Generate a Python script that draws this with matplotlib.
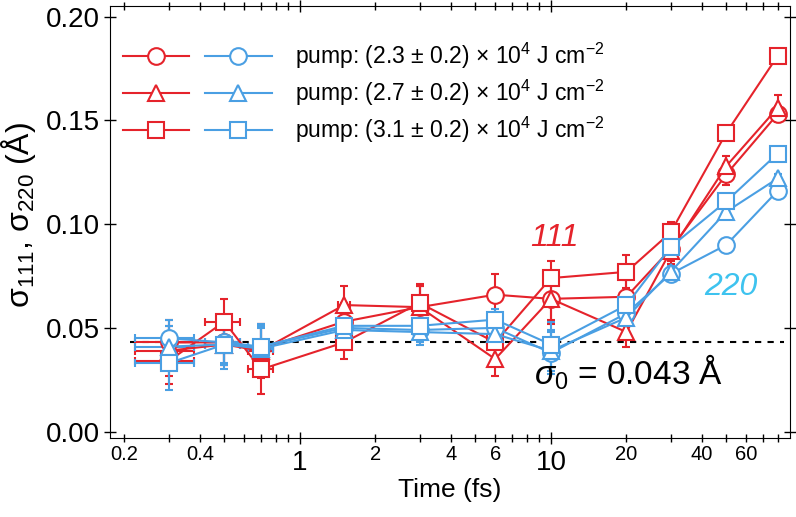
import matplotlib
matplotlib.use('Agg')
import matplotlib.pyplot as plt
from matplotlib.lines import Line2D
from matplotlib.legend_handler import HandlerTuple
from matplotlib.ticker import FixedLocator, FixedFormatter

plt.rcParams['font.family'] = ['Liberation Sans', 'DejaVu Sans']
plt.rcParams['mathtext.fontset'] = 'custom'
plt.rcParams['mathtext.rm'] = 'Liberation Sans'
plt.rcParams['mathtext.it'] = 'Liberation Sans:italic'

# data
time_fs = [0.3, 0.5, 0.7, 1.5, 3, 6, 10, 20, 30, 50, 80]
time_err = 0.08

s111_23 = [0.043, 0.043, 0.040, 0.053, 0.060, 0.066, 0.064, 0.065, 0.088, 0.124, 0.153]
s111_27 = [0.039, 0.042, 0.039, 0.061, 0.060, 0.035, 0.064, 0.048, 0.087, 0.128, 0.156]
s111_31 = [0.034, 0.053, 0.030, 0.043, 0.062, 0.043, 0.074, 0.077, 0.096, 0.144, 0.181]
e111_23 = [0.011, 0.011, 0.012, 0.009, 0.010, 0.010, 0.012, 0.008, 0.006, 0.005, 0.004]
e111_27 = [0.012, 0.010, 0.013, 0.009, 0.010, 0.008, 0.010, 0.007, 0.006, 0.005, 0.006]
e111_31 = [0.011, 0.011, 0.012, 0.008, 0.009, 0.009, 0.008, 0.008, 0.005, 0.002, 0.002]

s220_23 = [0.045, 0.043, 0.041, 0.050, 0.049, 0.050, 0.038, 0.057, 0.076, 0.090, 0.116]
s220_27 = [0.041, 0.042, 0.040, 0.049, 0.048, 0.047, 0.039, 0.055, 0.077, 0.106, 0.122]
s220_31 = [0.033, 0.042, 0.041, 0.051, 0.051, 0.054, 0.042, 0.061, 0.089, 0.111, 0.134]
e220_23 = [0.009, 0.010, 0.010, 0.006, 0.006, 0.006, 0.010, 0.004, 0.003, 0.002, 0.002]
e220_27 = [0.010, 0.010, 0.010, 0.006, 0.006, 0.006, 0.010, 0.004, 0.003, 0.002, 0.002]
e220_31 = [0.013, 0.012, 0.011, 0.006, 0.006, 0.005, 0.011, 0.004, 0.003, 0.002, 0.002]

sigma0 = 0.043
labels = ['pump: (2.3 ± 0.2) × 10$^4$ J cm$^{-2}$',
          'pump: (2.7 ± 0.2) × 10$^4$ J cm$^{-2}$',
          'pump: (3.1 ± 0.2) × 10$^4$ J cm$^{-2}$']
markers = ['o', '^', 's']

red = '#e5232b'
blue = '#4a9fe3'
cyan = '#3ec3ef'

fig = plt.figure(figsize=(7.96, 5.17), dpi=100)
ax = fig.add_axes([0.138, 0.153, 0.855, 0.835])

series = [(s111_23, e111_23, 'o', red), (s111_27, e111_27, '^', red), (s111_31, e111_31, 's', red),
          (s220_23, e220_23, 'o', blue), (s220_27, e220_27, '^', blue), (s220_31, e220_31, 's', blue)]
for vals, errs, m, c in series:
    ax.errorbar(time_fs, vals, yerr=errs, xerr=time_err, color=c, marker=m, ms=12,
                mfc='white', mec=c, mew=1.5, lw=1.5, elinewidth=1.5, capsize=3, capthick=1.5)

ax.hlines(sigma0, 0.21, 85, colors='black', linestyles=(0, (3, 3)), lw=1.5, zorder=1)

ax.set_xscale('log')
ax.set_xlim(0.175, 90)
ax.set_ylim(-0.003, 0.205)

ax.xaxis.set_major_locator(FixedLocator([1, 10]))
ax.xaxis.set_major_formatter(FixedFormatter(['1', '10']))
minor = [0.2, 0.3, 0.4, 0.5, 0.6, 0.7, 0.8, 0.9, 2, 3, 4, 5, 6, 7, 8, 9,
         20, 30, 40, 50, 60, 70, 80]
minor_lab = {0.2: '0.2', 0.4: '0.4', 2: '2', 4: '4', 6: '6', 20: '20', 40: '40', 60: '60'}
ax.xaxis.set_minor_locator(FixedLocator(minor))
ax.xaxis.set_minor_formatter(FixedFormatter([minor_lab.get(v, '') for v in minor]))
ax.set_yticks([0.00, 0.05, 0.10, 0.15, 0.20])

ax.tick_params(axis='both', which='both', direction='inout', top=True, right=True, width=1)
ax.tick_params(axis='x', which='major', length=9, labelsize=20, pad=4)
ax.tick_params(axis='x', which='minor', length=6, labelsize=14.5, pad=2)
ax.tick_params(axis='y', which='major', length=8, labelsize=20, pad=3)

ax.set_xlabel('Time (fs)', fontsize=19, labelpad=2)
ax.set_ylabel('σ$_{111}$, σ$_{220}$ (Å)', fontsize=23)
ax.yaxis.set_label_coords(-0.106, 0.516)

ax.text(10.3, 0.0935, '111', color=red, fontsize=23, style='italic', ha='center', va='center')
ax.text(52, 0.0698, '220', color=cyan, fontsize=23, style='italic', ha='center', va='center')
ax.text(8.6, 0.0288, r'$\sigma_{\mathit{0}}$ = 0.043 Å', fontsize=24, ha='left', va='center')

handles = []
for m in markers:
    hr = Line2D([], [], color=red, marker=m, ms=12, mfc='white', mew=1.5, lw=1.5)
    hb = Line2D([], [], color=blue, marker=m, ms=12, mfc='white', mew=1.5, lw=1.5)
    handles.append((hr, hb))
ax.legend(handles, labels, handler_map={tuple: HandlerTuple(ndivide=None, pad=0.7)},
          loc='upper left', bbox_to_anchor=(-0.008, 0.962), frameon=False, fontsize=16.5,
          handlelength=6.5, handletextpad=1.0, labelspacing=0.3, borderpad=0.3)

fig.savefig('out.png', dpi=100)
